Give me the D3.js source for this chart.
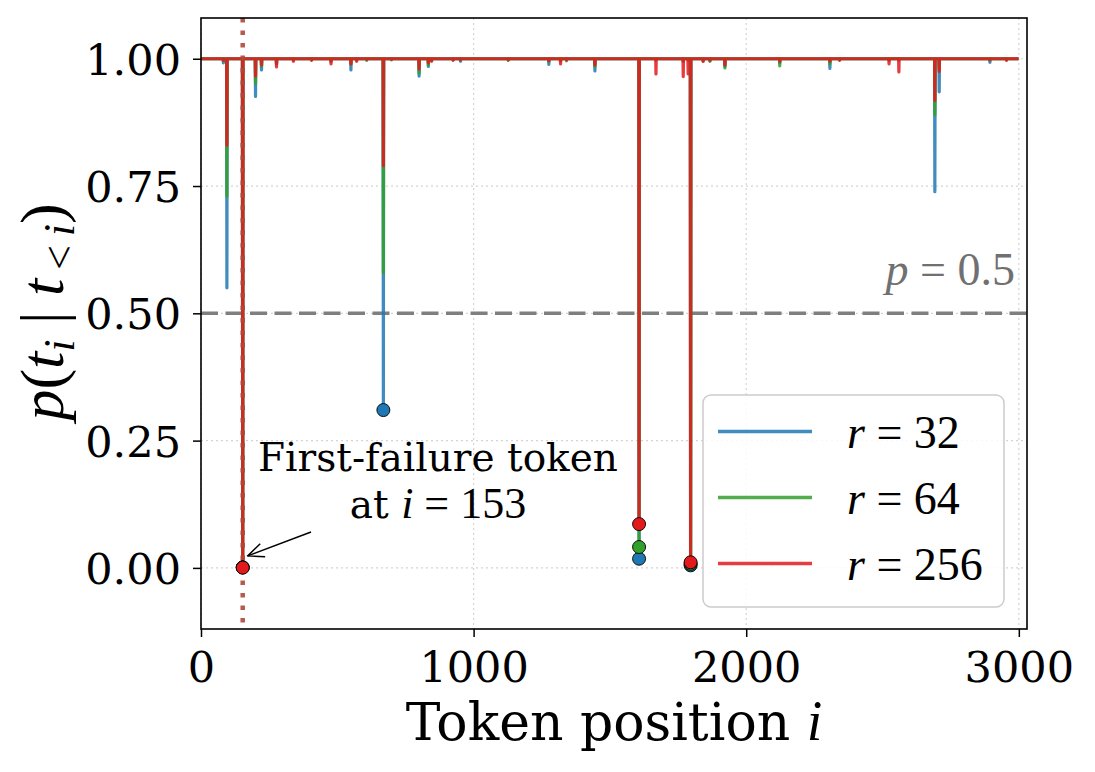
<!DOCTYPE html>
<html>
<head>
<meta charset="utf-8">
<style>
body { margin: 0; background: #fff; }
svg text { fill: #000; }
.tick text { font-family: "DejaVu Serif", serif; font-size: 43px; }
.math { font-family: "Liberation Serif", serif; }
</style>
<script src="https://cdnjs.cloudflare.com/ajax/libs/d3/7.8.5/d3.min.js"></script>
</head>
<body>
<svg width="1095" height="772"></svg>
<script>
// token positions where any of the three runs dips below ~1.0
var tokenCount = 3000;
var dipPos = [82, 95, 153, 200, 222, 277, 339, 406, 477, 550, 571, 608, 669, 699, 800, 834, 846, 925, 952,
              1127, 1276, 1319, 1341, 1445, 1607, 1669, 1769, 1787, 1796, 1842, 1867, 1922, 2123, 2307,
              2343, 2524, 2560, 2692, 2708, 2894, 2955];
// p(t_i | t_<i) at those positions, one array per rank
var pR32  = [.992, .55, .001, .926, .978, .99, .998, .998, .995, .978, .998, .998, .31, .999, .966, .985, .997, .998, .995,
             .998, .989, .996, .998, .976, .018, .998, .995, .998, .005, .997, .996, .985, .992, .981,
             .998, .997, .998, .739, .935, .993, .998];
var pR64  = [.996, .73, .001, .952, .985, .99, .998, .998, .995, .99, .998, .997, .58, .998, .972, .988, .997, .998, .998,
             .997, .995, .996, .996, .985, .041, .998, .996, .998, .008, .995, .995, .982, .986, .99,
             .998, .997, .998, .89, .98, .997, .998];
var pR256 = [.997, .83, .0005, .966, .988, .984, .995, .997, .99, .99, .995, .999, .79, .999, .98, .992, .995, .997, .998,
             .998, .996, .99, .998, .988, .086, .97, .965, .97, .011, .995, .997, .988, .995, .995,
             .997, .99, .974, .918, .975, .998, .997];
var rankLabels = ["32", "64", "256"];
var firstFail = 153;
var xTicks = [0, 1000, 2000, 3000];
var yTicks = [0, 0.25, 0.5, 0.75, 1.0];

var lineColors = ["#1f78b4", "#33a02c", "#e31a1c"];

var svg = d3.select("svg");
var L = 201, R = 1027, T = 18, B = 629;

var x = d3.scaleLinear().domain([0, 3030]).range([L, R]);
var y = d3.scaleLinear().domain([-0.12, 1.08]).range([B, T]);

function buildSeries(vals) {
  var m = new Map();
  dipPos.forEach(function(p, k) { m.set(p, vals[k]); });
  var out = [];
  for (var i = 0; i < tokenCount; i++) out.push({ i: i, p: m.has(i) ? m.get(i) : 1.0 });
  return out;
}
var series = [pR32, pR64, pR256].map(buildSeries);

svg.append("defs").append("clipPath").attr("id", "clip")
  .append("rect").attr("x", L).attr("y", T).attr("width", R - L).attr("height", B - T);

// grid
var grid = svg.append("g").attr("stroke", "#d4d4d4").attr("stroke-width", 1.2).attr("stroke-dasharray", "2,3");
grid.selectAll(".gx").data(xTicks).enter().append("line")
  .attr("x1", function(d) { return x(d); }).attr("x2", function(d) { return x(d); })
  .attr("y1", T).attr("y2", B);
grid.selectAll(".gy").data(yTicks).enter().append("line")
  .attr("y1", function(d) { return y(d); }).attr("y2", function(d) { return y(d); })
  .attr("x1", L).attr("x2", R);

// threshold
svg.append("line").attr("x1", L).attr("x2", R).attr("y1", y(0.5)).attr("y2", y(0.5))
  .attr("stroke", "#7f7f7f").attr("stroke-width", 3.5).attr("stroke-dasharray", "17,7.5");

var plot = svg.append("g").attr("clip-path", "url(#clip)");
var line = d3.line().x(function(d) { return x(d.i); }).y(function(d) { return y(d.p); });

series.forEach(function(s, k) {
  plot.append("path").datum(s).attr("d", line)
    .attr("fill", "none").attr("stroke", lineColors[k]).attr("stroke-opacity", 0.85)
    .attr("stroke-width", 3.2).attr("stroke-linejoin", "round");
});

// first failure marker line
plot.append("line").attr("x1", x(firstFail)).attr("x2", x(firstFail)).attr("y1", T).attr("y2", B)
  .attr("stroke", "#b0473a").attr("stroke-opacity", 0.9).attr("stroke-width", 4.5).attr("stroke-dasharray", "4.5,8");

// points below 0.5
series.forEach(function(s, k) {
  plot.selectAll(".m" + k).data(s.filter(function(d) { return d.p < 0.5; })).enter().append("circle")
    .attr("cx", function(d) { return x(d.i); }).attr("cy", function(d) { return y(d.p); })
    .attr("r", 6.5).attr("fill", lineColors[k]).attr("stroke", "#000").attr("stroke-width", 0.9);
});

// axes
var xAxis = svg.append("g").attr("transform", "translate(0," + B + ")")
  .call(d3.axisBottom(x).tickValues(xTicks).tickFormat(d3.format("d")).tickSize(8));
xAxis.selectAll(".tick text").attr("y", 53).attr("dy", null);
var yAxis = svg.append("g").attr("transform", "translate(" + L + ",0)")
  .call(d3.axisLeft(y).tickValues(yTicks).tickFormat(d3.format(".2f")).tickSize(8));
yAxis.selectAll(".tick text").attr("x", -20).attr("dy", "0.36em");
svg.selectAll(".domain").remove();
svg.selectAll(".tick line").attr("stroke", "#000").attr("stroke-width", 1.5);
svg.append("rect").attr("x", L).attr("y", T).attr("width", R - L).attr("height", B - T)
  .attr("fill", "none").attr("stroke", "#000").attr("stroke-width", 1.6);

// labels
var xl = svg.append("text").attr("x", (L + R) / 2).attr("y", 740).attr("text-anchor", "middle")
  .style("font-family", "DejaVu Serif").style("font-size", "52px");
xl.append("tspan").text("Token position ");
xl.append("tspan").attr("class", "math").style("font-style", "italic").style("font-size", "56px").text("i");

var yl = svg.append("text").attr("transform", "translate(63,312) rotate(-90)")
  .attr("text-anchor", "middle").attr("class", "math").style("font-size", "62px");
yl.append("tspan").style("font-style", "italic").text("p");
yl.append("tspan").text("(");
yl.append("tspan").style("font-style", "italic").text("t");
yl.append("tspan").style("font-style", "italic").style("font-size", "44px").attr("dy", 11).text("i");
yl.append("tspan").attr("dy", -11).text(" | ");
yl.append("tspan").style("font-style", "italic").text("t");
yl.append("tspan").style("font-size", "44px").attr("dy", 11).text("\u2009<\u2009");
yl.append("tspan").style("font-style", "italic").style("font-size", "44px").text("i");
yl.append("tspan").attr("dy", -11).text(")");

// threshold label
var pl = svg.append("text").attr("x", 1015).attr("y", 285).attr("text-anchor", "end")
  .attr("class", "math").style("font-size", "46px").style("fill", "#707070");
pl.append("tspan").style("font-style", "italic").text("p");
pl.append("tspan").text(" = 0.5");

// annotation
svg.append("text").attr("x", 438).attr("y", 471).attr("text-anchor", "middle")
  .style("font-family", "DejaVu Serif").style("font-size", "39px").text("First-failure token");
var at = svg.append("text").attr("x", 438).attr("y", 518).attr("text-anchor", "middle")
  .style("font-family", "DejaVu Serif").style("font-size", "39px");
at.append("tspan").text("at ");
at.append("tspan").attr("class", "math").style("font-style", "italic").style("font-size", "44px").text("i");
at.append("tspan").attr("class", "math").style("font-size", "44px").text(" = " + firstFail);

svg.append("defs").append("marker").attr("id", "arr").attr("viewBox", "0 0 20 20")
  .attr("refX", 19).attr("refY", 10).attr("markerWidth", 20).attr("markerHeight", 20)
  .attr("markerUnits", "userSpaceOnUse").attr("orient", "auto")
  .append("path").attr("d", "M3,3 L19,10 L3,17").attr("fill", "none").attr("stroke", "#000").attr("stroke-width", 1.5);
svg.append("line").attr("x1", 311).attr("y1", 532).attr("x2", x(firstFail) + 5).attr("y2", y(0) - 12)
  .attr("stroke", "#000").attr("stroke-width", 1.5).attr("marker-end", "url(#arr)");

// legend
var lg = svg.append("g");
lg.append("rect").attr("x", 703).attr("y", 395).attr("width", 301).attr("height", 212).attr("rx", 8)
  .attr("fill", "#fff").attr("fill-opacity", 0.85).attr("stroke", "#cccccc").attr("stroke-width", 1.5);
rankLabels.forEach(function(r, k) {
  var yy = 431.5 + k * 66;
  lg.append("line").attr("x1", 718).attr("x2", 812).attr("y1", yy).attr("y2", yy)
    .attr("stroke", lineColors[k]).attr("stroke-opacity", 0.85).attr("stroke-width", 3.5);
  var t = lg.append("text").attr("x", 847).attr("y", yy + 16).attr("class", "math").style("font-size", "46px");
  t.append("tspan").style("font-style", "italic").text("r");
  t.append("tspan").text(" = " + r);
});
</script>
</body>
</html>
